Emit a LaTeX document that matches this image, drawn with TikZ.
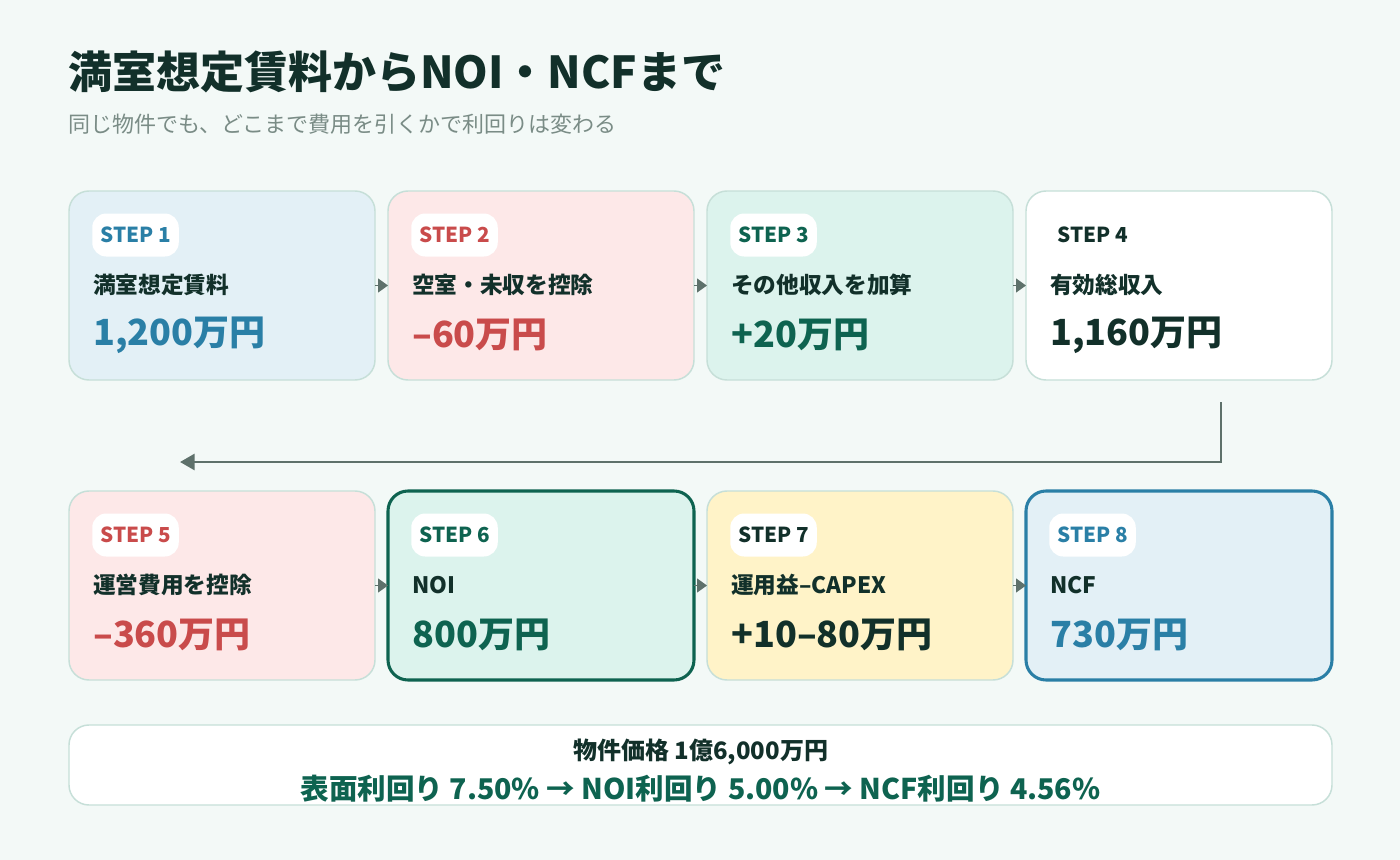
\documentclass[tikz,border=0pt]{standalone}
\usepackage{fontspec}
\setmainfont{Noto Sans CJK JP}
\usepackage{tikz}
\usetikzlibrary{positioning,arrows.meta}
\definecolor{bg}{HTML}{F3F9F7}
\definecolor{cardline}{HTML}{C6DFD8}
\definecolor{ink}{HTML}{12302A}
\definecolor{subgray}{HTML}{7A8C86}
\definecolor{arrowgray}{HTML}{5E716B}
\definecolor{blue}{HTML}{2A7FA6}
\definecolor{bluefill}{HTML}{E3F0F6}
\definecolor{red}{HTML}{C94B4B}
\definecolor{redfill}{HTML}{FDE8E8}
\definecolor{green}{HTML}{0E6350}
\definecolor{greenfill}{HTML}{DCF3ED}
\definecolor{yellowfill}{HTML}{FFF3C8}
\tikzset{
  card/.style={draw=cardline,line width=1.1pt,rounded corners=15pt,minimum width=229.5pt,minimum height=141.75pt,inner sep=0pt,outer sep=0pt},
  keycard/.style={card,line width=2.3pt},
  pill/.style={fill=white,rounded corners=10.5pt,minimum height=32.25pt,inner xsep=6pt,inner ysep=0pt,anchor=west,font=\bfseries\fontsize{15.5}{19}\selectfont},
  caption/.style={anchor=west,inner sep=0pt,text=ink,font=\bfseries\fontsize{17}{20}\selectfont},
  amount/.style={anchor=west,inner sep=0pt,font=\bfseries\fontsize{27}{32}\selectfont},
  flow/.style={draw=arrowgray,line width=1pt,-{Triangle[length=7.5pt,width=10.5pt]}},
  wrap/.style={draw=arrowgray,line width=2.2pt,-{Triangle[length=11pt,width=12pt]}}
}
\begin{document}
\begin{tikzpicture}[x=0.75pt,y=-0.75pt]
    \fill[bg] (0,0) rectangle (1400,860);
    \node[anchor=west,inner sep=0pt,text=ink,font=\bfseries\fontsize{33}{39}\selectfont] (title) at (68,72) {満室想定賃料からNOI・NCFまで};
    \node[anchor=west,inner sep=0pt,text=subgray,font=\fontsize{16.5}{20}\selectfont] (sub) at (68,124) {同じ物件でも、どこまで費用を引くかで利回りは変わる};
    % first row
    \node[card,fill=bluefill] (s1) at (222,285.5) {};
    \node[card,fill=redfill] (s2) [right=9.75pt of s1] {};
    \node[card,fill=greenfill] (s3) [right=9.75pt of s2] {};
    \node[card,fill=white] (s4) [right=9.75pt of s3] {};
    % second row
    \node[card,fill=redfill] (s5) [below=83.25pt of s1] {};
    \node[keycard,draw=green,fill=greenfill] (s6) [right=9.75pt of s5] {};
    \node[card,fill=yellowfill] (s7) [right=9.75pt of s6] {};
    \node[keycard,draw=blue,fill=bluefill] (s8) [right=9.75pt of s7] {};
    % card texts
    \node[pill,text=blue] (t1) at ([shift={(23,44)}]s1.north west) {STEP 1};
    \node[caption] (c1) at ([shift={(24,94)}]s1.north west) {満室想定賃料};
    \node[amount,text=blue] (v1) at ([shift={(24,144)}]s1.north west) {1,200万円};
    \node[pill,text=red] (t2) at ([shift={(23,44)}]s2.north west) {STEP 2};
    \node[caption] (c2) at ([shift={(24,94)}]s2.north west) {空室・未収を控除};
    \node[amount,text=red] (v2) at ([shift={(24,144)}]s2.north west) {–60万円};
    \node[pill,text=green] (t3) at ([shift={(23,44)}]s3.north west) {STEP 3};
    \node[caption] (c3) at ([shift={(24,94)}]s3.north west) {その他収入を加算};
    \node[amount,text=green] (v3) at ([shift={(24,144)}]s3.north west) {+20万円};
    \node[pill,text=ink] (t4) at ([shift={(23,44)}]s4.north west) {STEP 4};
    \node[caption] (c4) at ([shift={(24,94)}]s4.north west) {有効総収入};
    \node[amount,text=ink] (v4) at ([shift={(24,144)}]s4.north west) {1,160万円};
    \node[pill,text=red] (t5) at ([shift={(23,44)}]s5.north west) {STEP 5};
    \node[caption] (c5) at ([shift={(24,94)}]s5.north west) {運営費用を控除};
    \node[amount,text=red] (v5) at ([shift={(24,144)}]s5.north west) {–360万円};
    \node[pill,text=green] (t6) at ([shift={(23,44)}]s6.north west) {STEP 6};
    \node[caption] (c6) at ([shift={(24,94)}]s6.north west) {NOI};
    \node[amount,text=green] (v6) at ([shift={(24,144)}]s6.north west) {800万円};
    \node[pill,text=ink] (t7) at ([shift={(23,44)}]s7.north west) {STEP 7};
    \node[caption] (c7) at ([shift={(24,94)}]s7.north west) {運用益–CAPEX};
    \node[amount,text=ink] (v7) at ([shift={(24,144)}]s7.north west) {+10–80万円};
    \node[pill,text=blue] (t8) at ([shift={(23,44)}]s8.north west) {STEP 8};
    \node[caption] (c8) at ([shift={(24,94)}]s8.north west) {NCF};
    \node[amount,text=blue] (v8) at ([shift={(24,144)}]s8.north west) {730万円};
    % connectors
    \draw[flow] (s1) -- (s2);
    \draw[flow] (s2) -- (s3);
    \draw[flow] (s3) -- (s4);
    \draw[flow] (s5) -- (s6);
    \draw[flow] (s6) -- (s7);
    \draw[flow] (s7) -- (s8);
    \coordinate (wrapA) at (1221,402);
    \coordinate (wrapB) at (180,462);
    \draw[wrap] (wrapA) |- (wrapB);
    % yield summary
    \node[card,fill=white,minimum width=947.25pt,minimum height=60pt] (yield) at (700.5,765) {};
    \node[text=ink,font=\bfseries\fontsize{18}{21}\selectfont] (price) at (700.5,752) {物件価格 1億6,000万円};
    \node[text=green,font=\bfseries\fontsize{21.4}{25}\selectfont] (rates) at (700.5,789) {表面利回り 7.50\% → NOI利回り 5.00\% → NCF利回り 4.56\%};
\end{tikzpicture}
\end{document}
